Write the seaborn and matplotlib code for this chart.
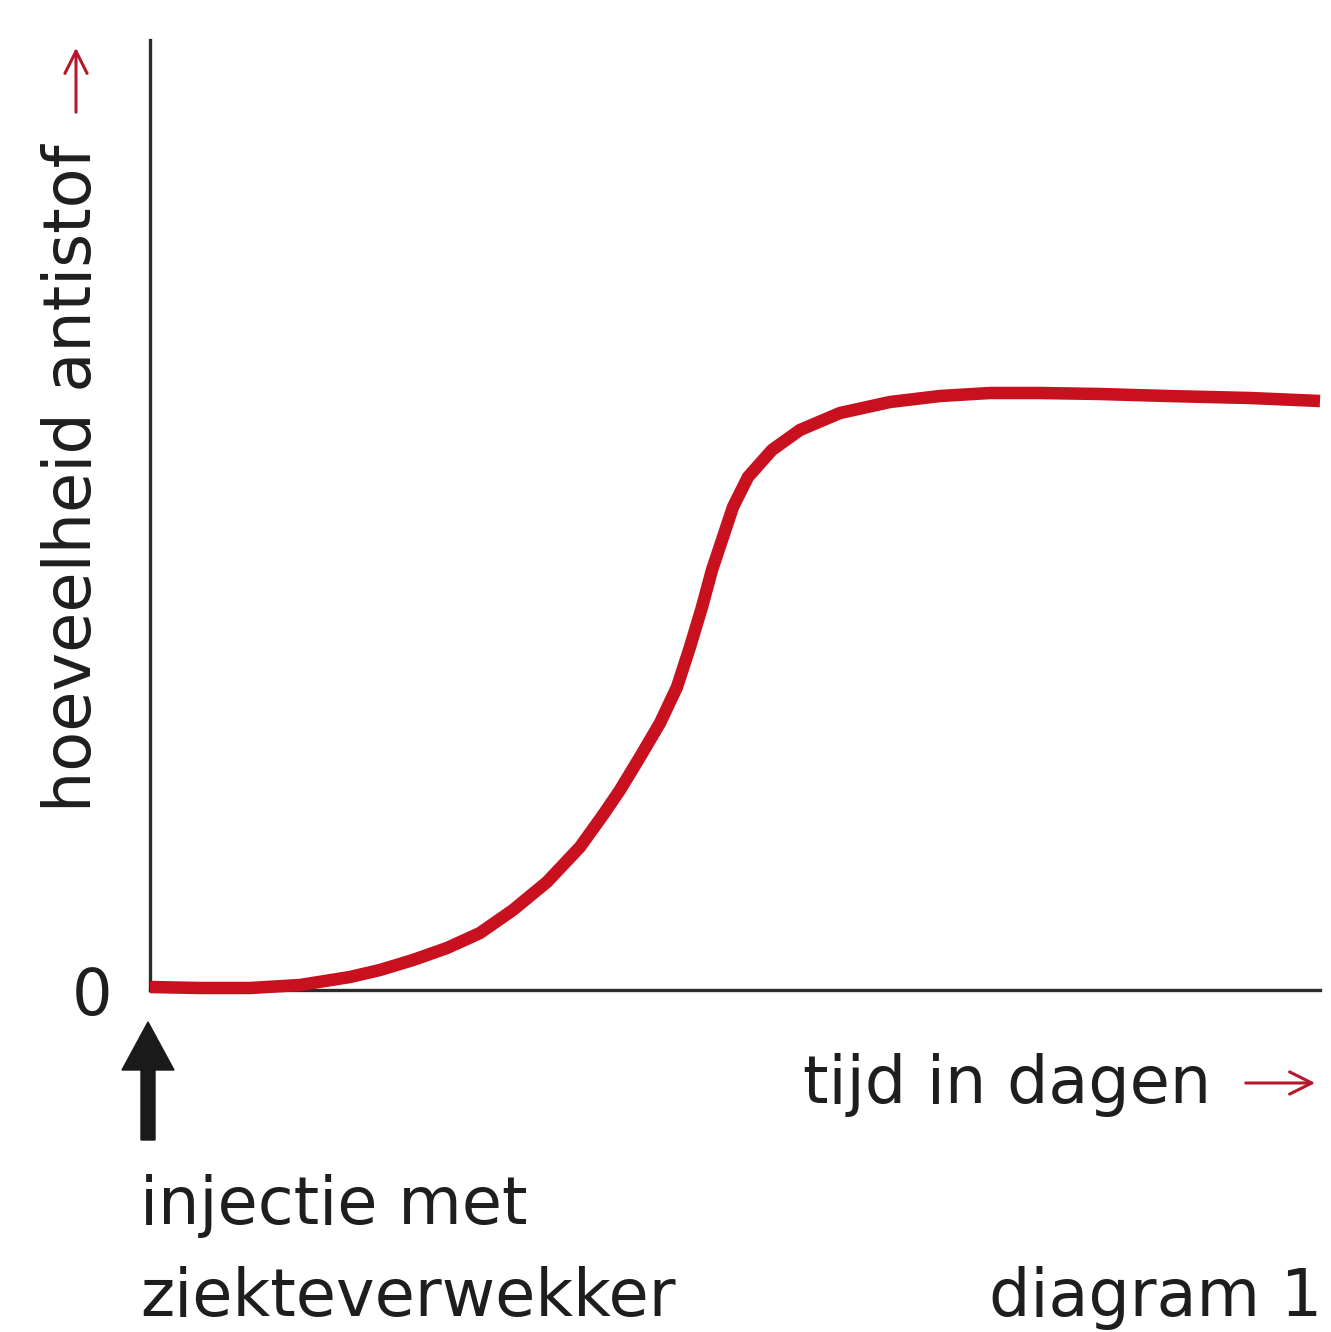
import numpy as np
import pandas as pd
import matplotlib
matplotlib.use("Agg")
import matplotlib.pyplot as plt
import seaborn as sns
from matplotlib.patches import FancyArrow
from matplotlib.transforms import IdentityTransform

# Antibody level after infection (arbitrary units) along the time axis
days = [0, 5, 10, 15, 20, 23, 26.3, 29.7, 33, 36.3, 39.7, 43, 45.3, 47, 49,
        51, 52.7, 54, 55.2, 56.2, 57.2, 58.3, 59.8, 62.2, 65, 69, 74, 79, 84,
        89, 95, 101.7, 110, 117]
antibody = [0.3, 0.2, 0.2, 0.5, 1.3, 2.0, 3.0, 4.2, 5.7, 8.0, 10.8, 14.3,
            17.5, 20.0, 23.3, 26.7, 30.3, 34.3, 38.3, 42.0, 45.0, 48.3, 51.3,
            54.0, 56.0, 57.7, 58.8, 59.4, 59.7, 59.7, 59.6, 59.4, 59.2, 58.9]
y_ticks = [0]
y_tick_labels = ["0"]

W, H = 1331, 1332
sns.set_theme(style="white")
plt.rcParams["font.family"] = ["DejaVu Sans"]

fig = plt.figure(figsize=(W / 100, H / 100), dpi=100)
fig.patch.set_facecolor("white")


def fx(x):
    return x / W


def fy(y):
    return 1 - y / H


ax = fig.add_axes([fx(150), fy(990), fx(1320) - fx(150), fy(40) - fy(990)])
df = pd.DataFrame({"tijd": days, "antistof": antibody})
sns.lineplot(data=df, x="tijd", y="antistof", ax=ax, color="#c8101e",
             linewidth=9, solid_capstyle="butt", solid_joinstyle="round",
             clip_on=False, zorder=3)

ax.set_xlim(0, 117)
ax.set_ylim(0, 95)
ax.set_xticks([])
ax.set_yticks(y_ticks)
ax.set_yticklabels(y_tick_labels, fontsize=46, color="#1e1e1e")
ax.tick_params(axis="y", length=0, pad=27)
ax.set_xlabel("")
ax.set_ylabel("")
for side in ["top", "right"]:
    ax.spines[side].set_visible(False)
for side in ["left", "bottom"]:
    ax.spines[side].set_color("#2b2b2b")
    ax.spines[side].set_linewidth(2.4)
    ax.spines[side].set_zorder(2)

txt = dict(fontsize=47, color="#1e1e1e")
red = "#b5182b"
arrow_style = dict(arrowstyle="->,head_length=0.8,head_width=0.4",
                   color=red, lw=2.2, mutation_scale=20)

# axis titles with red arrows
fig.text(fx(73), fy(812), "hoeveelheid antistof", rotation=90,
         ha="center", va="bottom", **txt)
fig.text(fx(803), fy(1103), "tijd in dagen", ha="left", va="baseline", **txt)
ax.annotate("", xy=(1318, H - 1083), xytext=(1243, H - 1083),
            xycoords="figure pixels", textcoords="figure pixels",
            arrowprops=arrow_style)
ax.annotate("", xy=(76, H - 45), xytext=(76, H - 115),
            xycoords="figure pixels", textcoords="figure pixels",
            arrowprops=arrow_style)

# injection marker below the origin
fig.add_artist(FancyArrow(148, H - 1140, 0, 118, width=14, head_width=52,
                          head_length=48, length_includes_head=True,
                          color="#1a1a1a", transform=IdentityTransform()))
fig.text(fx(140), fy(1224), "injectie met", ha="left", va="baseline", **txt)
fig.text(fx(140), fy(1316), "ziekteverwekker", ha="left", va="baseline", **txt)
fig.text(fx(1322), fy(1316), "diagram 1", ha="right", va="baseline", **txt)

fig.savefig("out.png", dpi=100, facecolor="white")
